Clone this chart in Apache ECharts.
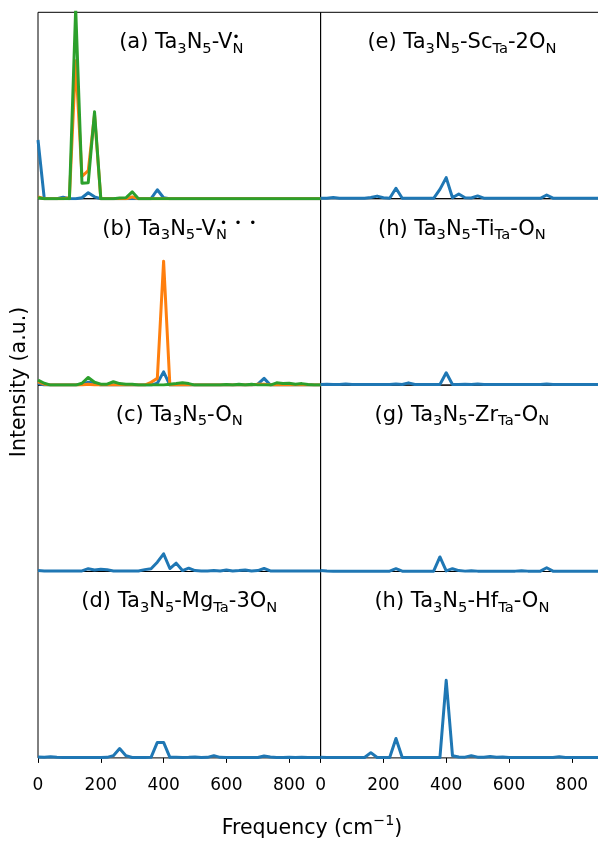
<!DOCTYPE html>
<html>
<head>
<meta charset="utf-8">
<script src="https://cdn.jsdelivr.net/npm/echarts@6/dist/echarts.min.js"></script>
<style>
  html, body { margin: 0; padding: 0; background: #ffffff; overflow: hidden; }
  #chart { width: 598px; height: 843px; }
</style>
</head>
<body>
<div id="chart"></div>
<script>
// Frequency grid (cm^-1)
const freq = [0, 20, 40, 60, 80, 100, 120, 140, 160, 180, 200, 220, 240, 260, 280, 300, 320, 340, 360, 380,
              400, 420, 440, 460, 480, 500, 520, 540, 560, 580, 600, 620, 640, 660, 680, 700, 720, 740, 760, 780,
              800, 820, 840, 860, 880, 900];
const xTicks = [0, 200, 400, 600, 800];

// (a) Ta3N5-VN(1+) : three spectra
const aBlue   = [0.315, 0, 0, 0, 0.008, 0, 0, 0.005, 0.032, 0.01, 0, 0, 0, 0, 0, 0, 0, 0, 0, 0.048,
                 0.005, 0, 0, 0, 0, 0, 0, 0, 0, 0, 0, 0, 0, 0, 0, 0, 0, 0, 0, 0,
                 0, 0, 0, 0, 0, 0];
const aOrange = [0.01, 0, 0, 0, 0, 0.005, 0.74, 0.12, 0.15, 0.45, 0, 0, 0, 0, 0, 0.01, 0, 0, 0, 0,
                 0, 0, 0, 0, 0, 0, 0, 0, 0, 0, 0, 0, 0, 0, 0, 0, 0, 0, 0, 0,
                 0, 0, 0, 0, 0, 0];
const aGreen  = [0.005, 0, 0, 0, 0, 0, 1.02, 0.083, 0.086, 0.466, 0, 0, 0, 0.004, 0.005, 0.037, 0, 0, 0, 0,
                 0, 0, 0, 0, 0, 0, 0, 0, 0, 0, 0, 0, 0, 0, 0, 0, 0, 0, 0, 0,
                 0, 0, 0, 0, 0, 0];

// (b) Ta3N5-VN(3+) : three spectra
const bBlue   = [0.01, 0, 0, 0, 0, 0, 0, 0.005, 0.015, 0.01, 0, 0, 0, 0, 0, 0, 0, 0, 0, 0.01,
                 0.071, 0, 0, 0, 0, 0, 0, 0, 0, 0, 0, 0, 0, 0, 0, 0.005, 0.036, 0, 0, 0,
                 0, 0, 0, 0, 0, 0];
const bOrange = [0.018, 0.005, 0, 0, 0, 0, 0, 0, 0.005, 0, 0, 0, 0, 0, 0, 0, 0, 0, 0.015, 0.036,
                 0.665, 0, 0, 0, 0, 0, 0, 0, 0, 0, 0, 0, 0, 0, 0, 0.005, 0.005, 0, 0, 0,
                 0, 0, 0, 0, 0, 0];
const bGreen  = [0.027, 0.01, 0, 0, 0, 0, 0, 0.01, 0.041, 0.015, 0.005, 0.005, 0.018, 0.008, 0.005, 0.005, 0, 0, 0, 0,
                 0, 0.005, 0.008, 0.012, 0.008, 0, 0, 0, 0, 0, 0.003, 0, 0.005, 0, 0.005, 0, 0, 0, 0.012, 0.008,
                 0.01, 0.005, 0.008, 0.003, 0, 0];

// (c) Ta3N5-ON
const cBlue = [0.005, 0.003, 0.003, 0.003, 0.003, 0.003, 0.003, 0.003, 0.015, 0.008, 0.012, 0.01, 0.003, 0.003, 0.003, 0.003, 0.003, 0.01, 0.015, 0.05,
               0.095, 0.016, 0.045, 0.005, 0.018, 0.005, 0.003, 0.003, 0.005, 0.003, 0.008, 0.003, 0.005, 0.008, 0.003, 0.005, 0.016, 0.003, 0.003, 0.003,
               0.003, 0.003, 0.003, 0.003, 0.003, 0.003];

// (d) Ta3N5-MgTa-3ON
const dBlue = [0.005, 0.003, 0.006, 0.003, 0.002, 0.002, 0.002, 0.002, 0.002, 0.002, 0.002, 0.003, 0.012, 0.05, 0.012, 0.002, 0.002, 0.002, 0.003, 0.083,
               0.083, 0.003, 0.003, 0.002, 0.003, 0.005, 0.002, 0.003, 0.012, 0.003, 0.002, 0.002, 0.002, 0.002, 0.002, 0.002, 0.01, 0.005, 0.002, 0.002,
               0.004, 0.002, 0.003, 0.002, 0.002, 0.002];

// (e) Ta3N5-ScTa-2ON
const eBlue = [0.003, 0.003, 0.006, 0.002, 0.002, 0.002, 0.002, 0.002, 0.006, 0.014, 0.005, 0.002, 0.056, 0.002, 0.002, 0.002, 0.002, 0.002, 0.002, 0.05,
               0.113, 0.005, 0.025, 0.005, 0.004, 0.015, 0.003, 0.002, 0.002, 0.002, 0.002, 0.002, 0.002, 0.002, 0.002, 0.002, 0.02, 0.003, 0.002, 0.002,
               0.002, 0.002, 0.002, 0.002, 0.002, 0.002];

// (h) Ta3N5-TiTa-ON
const tiBlue = [0.003, 0.005, 0.003, 0.003, 0.006, 0.003, 0.003, 0.003, 0.003, 0.003, 0.003, 0.003, 0.006, 0.003, 0.012, 0.003, 0.003, 0.003, 0.003, 0.003,
                0.066, 0.003, 0.003, 0.005, 0.003, 0.006, 0.003, 0.003, 0.003, 0.003, 0.003, 0.003, 0.003, 0.003, 0.003, 0.003, 0.006, 0.003, 0.003, 0.003,
                0.003, 0.003, 0.003, 0.003, 0.003, 0.003];

// (g) Ta3N5-ZrTa-ON
const gBlue = [0.006, 0.003, 0.002, 0.002, 0.002, 0.002, 0.002, 0.002, 0.002, 0.002, 0.002, 0.002, 0.015, 0.002, 0.002, 0.002, 0.002, 0.002, 0.002, 0.078,
               0.003, 0.015, 0.005, 0.002, 0.004, 0.002, 0.002, 0.002, 0.002, 0.002, 0.002, 0.002, 0.004, 0.002, 0.002, 0.002, 0.02, 0.002, 0.002, 0.002,
               0.002, 0.002, 0.002, 0.002, 0.002, 0.002];

// (h) Ta3N5-HfTa-ON
const hfBlue = [0.003, 0.002, 0.002, 0.002, 0.002, 0.002, 0.002, 0.002, 0.028, 0.002, 0.002, 0.002, 0.104, 0.002, 0.002, 0.002, 0.002, 0.002, 0.002, 0.002,
                0.416, 0.012, 0.005, 0.004, 0.012, 0.004, 0.003, 0.008, 0.003, 0.005, 0.002, 0.002, 0.002, 0.002, 0.002, 0.002, 0.002, 0.002, 0.006, 0.002,
                0.002, 0.002, 0.002, 0.002, 0.002, 0.002];

const C_BLUE = '#1f77b4', C_ORANGE = '#ff7f0e', C_GREEN = '#2ca02c';
const FONT = "'DejaVu Sans', 'Liberation Sans', sans-serif";

// Panel titles (rich text: s = subscript, d = bullet charge marks)
const panels = [
  { col: 0, row: 0, title: '(a) Ta{s|3}N{s|5}-V{s|N}{d|•}', lines: [[aBlue, C_BLUE], [aOrange, C_ORANGE], [aGreen, C_GREEN]] },
  { col: 0, row: 1, title: '(b) Ta{s|3}N{s|5}-V{s|N}{d3|•  •  •}', lines: [[bBlue, C_BLUE], [bOrange, C_ORANGE], [bGreen, C_GREEN]] },
  { col: 0, row: 2, title: '(c) Ta{s|3}N{s|5}-O{s|N}', lines: [[cBlue, C_BLUE]] },
  { col: 0, row: 3, title: '(d) Ta{s|3}N{s|5}-Mg{s|Ta}-3O{s|N}', lines: [[dBlue, C_BLUE]] },
  { col: 1, row: 0, title: '(e) Ta{s|3}N{s|5}-Sc{s|Ta}-2O{s|N}', lines: [[eBlue, C_BLUE]] },
  { col: 1, row: 1, title: '(h) Ta{s|3}N{s|5}-Ti{s|Ta}-O{s|N}', lines: [[tiBlue, C_BLUE]] },
  { col: 1, row: 2, title: '(g) Ta{s|3}N{s|5}-Zr{s|Ta}-O{s|N}', lines: [[gBlue, C_BLUE]] },
  { col: 1, row: 3, title: '(h) Ta{s|3}N{s|5}-Hf{s|Ta}-O{s|N}', lines: [[hfBlue, C_BLUE]] }
];

// Panel geometry: the right column runs past the page edge, so its
// frequency range is widened in proportion to keep the same scale.
const colLeft = [38, 320.6];
const panelW = 282.6;
const pxPerUnit = panelW / 900;
const colWidth = [panelW, 310];
const colMax = [900, 310 / pxPerUnit];
const titleCenterX = [38 + panelW / 2, 320.6 + panelW / 2];
const rowTop = [12.3, 198.7, 385.1, 571.5];
const panelH = 186.4;

const richStyles = {
  s:  { fontSize: 14.7, fontFamily: FONT, fill: '#000', padding: [6, 0, -6, 0] },
  d:  { fontSize: 12, fontFamily: FONT, fill: '#000', padding: [-5, 0, 5, -11] },
  d3: { fontSize: 12, fontFamily: FONT, fill: '#000', padding: [-5, 0, 5, -7] }
};

const grids = [], xAxes = [], yAxes = [], series = [], graphics = [];

panels.forEach((p, i) => {
  const bottomRow = p.row === 3;
  grids.push({
    left: colLeft[p.col], top: rowTop[p.row], width: colWidth[p.col], height: panelH,
    outerBoundsMode: 'none',
    show: true, borderColor: '#000', borderWidth: 1, backgroundColor: 'transparent', containLabel: false
  });
  xAxes.push({
    gridIndex: i, type: 'value', min: 0, max: colMax[p.col],
    axisLine: { show: false },
    axisTick: { show: bottomRow, length: 5, lineStyle: { color: '#000', width: 1 },
                customValues: xTicks },
    axisLabel: { show: bottomRow, fontSize: 17, color: '#000', fontFamily: FONT, margin: 19,
                 customValues: xTicks },
    splitLine: { show: false }
  });
  yAxes.push({ gridIndex: i, type: 'value', min: 0, max: 1, show: false, splitLine: { show: false } });
  p.lines.forEach(([vals, color]) => {
    series.push({
      type: 'line', xAxisIndex: i, yAxisIndex: i,
      data: freq.map((f, k) => [f, vals[k]]),
      showSymbol: false, symbol: 'none', clip: true,
      lineStyle: { color: color, width: 3, join: 'round' },
      itemStyle: { color: color },
      z: 3
    });
  });
  graphics.push({
    type: 'text',
    x: titleCenterX[p.col],
    y: rowTop[p.row] + 30.5,
    style: {
      text: p.title, rich: richStyles,
      fontSize: 21, fontFamily: FONT, fill: '#000',
      align: 'center', verticalAlign: 'middle', textAlign: 'center', textVerticalAlign: 'middle'
    },
    z: 10
  });
});

// Shared axis titles
graphics.push({
  type: 'text', x: 312, y: 829,
  style: {
    text: 'Frequency (cm{p|−1})',
    rich: { p: { fontSize: 14.3, fontFamily: FONT, fill: '#000', padding: [-8, 0, 8, 0] } },
    fontSize: 20.5, fontFamily: FONT, fill: '#000',
    align: 'center', verticalAlign: 'middle', textAlign: 'center', textVerticalAlign: 'middle'
  },
  z: 10
});
graphics.push({
  type: 'text', x: 20, y: 382, rotation: Math.PI / 2,
  style: {
    text: 'Intensity (a.u.)',
    fontSize: 20.5, fontFamily: FONT, fill: '#000',
    align: 'center', verticalAlign: 'middle', textAlign: 'center', textVerticalAlign: 'middle'
  },
  z: 10
});

const chart = echarts.init(document.getElementById('chart'), null, { renderer: 'canvas' });
chart.setOption({
  animation: false,
  backgroundColor: '#ffffff',
  grid: grids,
  xAxis: xAxes,
  yAxis: yAxes,
  series: series,
  graphic: graphics
});
</script>
</body>
</html>
